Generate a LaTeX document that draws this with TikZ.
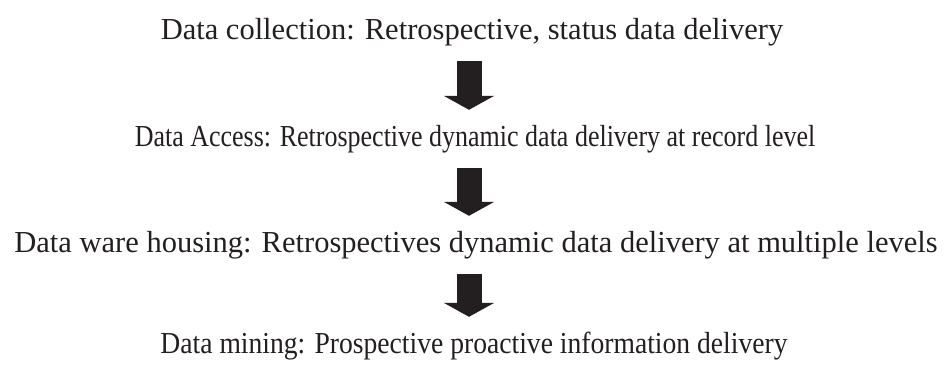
\documentclass[tikz,border=0pt]{standalone}
\usepackage{fontspec}
\setmainfont{Liberation Serif}
\usetikzlibrary{arrows.meta}
\usetikzlibrary{positioning}
\definecolor{inkblack}{HTML}{231F20}

% narrower setting of a line, same height
\newcommand{\narrowline}[2]{\scalebox{#1}[1]{#2}}

\tikzset{
  stage/.style={inner sep=0pt, anchor=base, text=inkblack,
    font=\fontsize{30.5pt}{34pt}\selectfont, text height=21pt, text depth=7pt},
  downarrow/.style={line width=25pt, draw=inkblack,
    -{Triangle[width=50pt,length=14pt]}, shorten <=15pt, shorten >=15pt}
}

\begin{document}
\begin{tikzpicture}[x=1pt,y=-1pt]
    \useasboundingbox (0,0) rectangle (950,365);
    \node[stage] (collect) at (472,39) {Data collection: Retrospective, status data delivery};
    \node[stage] (access) at (475,146) {\narrowline{0.852}{Data Access: Retrospective dynamic data delivery at record level}};
    \node[stage] (warehouse) at (476,252) {Data ware housing: Retrospectives dynamic data delivery at multiple levels};
    \node[stage] (mining) at (474,353) {\narrowline{0.905}{Data mining: Prospective proactive information delivery}};
    \draw[downarrow] (collect.south -| 469,0) -- (access.north -| 469,0);
    \draw[downarrow] (access.south -| 469,0) -- (warehouse.north -| 469,0);
    \draw[downarrow] (warehouse.south -| 469,0) -- (mining.north -| 469,0);
  \end{tikzpicture}
\end{document}
